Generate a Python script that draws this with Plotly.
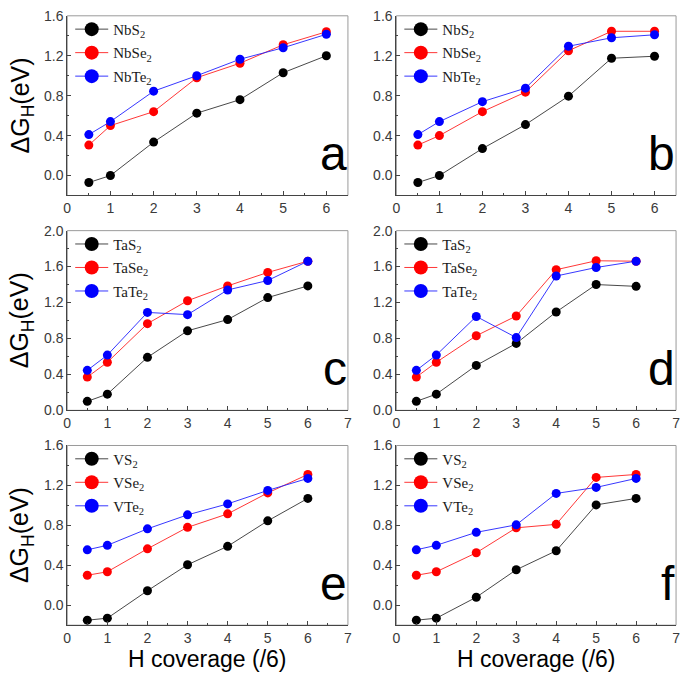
import plotly.graph_objects as go

W, H = 685, 682

# ---------------- data ----------------
x_cov = [0.5, 1, 2, 3, 4, 5, 6]
x_ticks = [0, 1, 2, 3, 4, 5, 6, 7]

# panel a (Nb, configuration 1)
a_NbS2 = [-0.07, 0.00, 0.335, 0.625, 0.76, 1.03, 1.20]
a_NbSe2 = [0.305, 0.50, 0.64, 0.98, 1.125, 1.31, 1.44]
a_NbTe2 = [0.41, 0.54, 0.845, 1.00, 1.165, 1.28, 1.415]
# panel b (Nb, configuration 2)
b_NbS2 = [-0.07, 0.00, 0.27, 0.51, 0.795, 1.175, 1.195]
b_NbSe2 = [0.305, 0.40, 0.64, 0.835, 1.25, 1.445, 1.445]
b_NbTe2 = [0.41, 0.54, 0.74, 0.875, 1.295, 1.38, 1.41]
# panel c (Ta, configuration 1)
c_TaS2 = [0.10, 0.18, 0.59, 0.885, 1.01, 1.255, 1.385]
c_TaSe2 = [0.37, 0.535, 0.965, 1.22, 1.385, 1.535, 1.66]
c_TaTe2 = [0.445, 0.615, 1.09, 1.065, 1.34, 1.445, 1.66]
# panel d (Ta, configuration 2)
d_TaS2 = [0.10, 0.18, 0.50, 0.745, 1.095, 1.40, 1.38]
d_TaSe2 = [0.37, 0.535, 0.83, 1.05, 1.565, 1.665, 1.66]
d_TaTe2 = [0.445, 0.615, 1.045, 0.81, 1.495, 1.59, 1.66]
# panel e (V, configuration 1)
e_VS2 = [-0.15, -0.13, 0.145, 0.405, 0.59, 0.845, 1.07]
e_VSe2 = [0.30, 0.335, 0.565, 0.78, 0.915, 1.125, 1.31]
e_VTe2 = [0.555, 0.60, 0.765, 0.905, 1.015, 1.15, 1.27]
# panel f (V, configuration 2)
f_VS2 = [-0.15, -0.13, 0.08, 0.355, 0.545, 1.005, 1.07]
f_VSe2 = [0.30, 0.335, 0.525, 0.775, 0.81, 1.28, 1.31]
f_VTe2 = [0.555, 0.60, 0.73, 0.805, 1.12, 1.18, 1.27]

names_Nb = ["NbS<sub>2</sub>", "NbSe<sub>2</sub>", "NbTe<sub>2</sub>"]
names_Ta = ["TaS<sub>2</sub>", "TaSe<sub>2</sub>", "TaTe<sub>2</sub>"]
names_V = ["VS<sub>2</sub>", "VSe<sub>2</sub>", "VTe<sub>2</sub>"]
panel_letters = ["a", "b", "c", "d", "e", "f"]
y_title = "ΔG<sub>H</sub>(eV)"
x_title = "H coverage (/6)"

colors = ["#000000", "#FF0000", "#0000FF"]
line_colors = ["#333333", "#FF2020", "#2020FF"]

panels = [
    (names_Nb, [a_NbS2, a_NbSe2, a_NbTe2]),
    (names_Nb, [b_NbS2, b_NbSe2, b_NbTe2]),
    (names_Ta, [c_TaS2, c_TaSe2, c_TaTe2]),
    (names_Ta, [d_TaS2, d_TaSe2, d_TaTe2]),
    (names_V, [e_VS2, e_VSe2, e_VTe2]),
    (names_V, [f_VS2, f_VSe2, f_VTe2]),
]

# ---------------- layout geometry (page pixels) ----------------
cols_px = [(64, 348), (397, 680)]
rows_px = [(8, 192), (228, 412), (448, 632)]
x_ranges = [[0, 6.5], [0, 7], [0, 7]]
y_ranges = [[-0.2, 1.6], [0, 2.0], [-0.2, 1.6]]


def px(xp):
    return xp / W


def py(yp):
    return 1 - yp / H


fig = go.Figure()
layout = dict(
    width=W, height=H,
    margin=dict(l=0, r=0, t=0, b=0),
    paper_bgcolor="white", plot_bgcolor="white",
    font=dict(family="Liberation Sans, Arial", size=14, color="#333333"),
    showlegend=True,
)
annotations = []
shapes = []

for i, (names, series) in enumerate(panels):
    r, c = divmod(i, 2)
    k = i + 1
    xa = "x" if k == 1 else f"x{k}"
    ya = "y" if k == 1 else f"y{k}"
    lg = "legend" if k == 1 else f"legend{k}"
    x0, x1 = cols_px[c]
    y0, y1 = rows_px[r]
    for j, (nm, vals) in enumerate(zip(names, series)):
        fig.add_trace(go.Scatter(
            x=x_cov, y=vals, name=nm, mode="lines+markers",
            line=dict(color=line_colors[j], width=0.9),
            marker=dict(color=colors[j], size=9),
            xaxis=xa, yaxis=ya, showlegend=False,
        ))
        # legend entry (bigger symbol, as in the original)
        fig.add_trace(go.Scatter(
            x=[None], y=[None], name=nm, mode="lines+markers",
            line=dict(color=line_colors[j], width=0.9),
            marker=dict(color=colors[j], size=14),
            xaxis=xa, yaxis=ya, legend=lg, legendgroup=f"g{k}_{j}",
            showlegend=True, hoverinfo="skip",
        ))
    axis_common = dict(
        showline=True, linecolor="#444444", linewidth=1,
        ticks="inside", ticklen=4, tickcolor="#444444",
        minor=dict(ticks="inside", ticklen=2, tickcolor="#444444"),
        showgrid=False, zeroline=False, fixedrange=True,
        tickfont=dict(family="Liberation Sans, Arial", size=14, color="#3a3a3a"),
    )
    layout["xaxis" if k == 1 else f"xaxis{k}"] = dict(
        axis_common, domain=[px(x0), px(x1)], range=x_ranges[r],
        tickmode="array", tickvals=x_ticks, ticktext=[str(t) for t in x_ticks],
        minor=dict(axis_common["minor"], dtick=0.5, tick0=0),
        anchor=ya,
    )
    layout["yaxis" if k == 1 else f"yaxis{k}"] = dict(
        axis_common, domain=[py(y1), py(y0)], range=y_ranges[r],
        dtick=0.4, tick0=0, tickformat=".1f",
        minor=dict(axis_common["minor"], dtick=0.2, tick0=0),
        anchor=xa,
    )
    layout[lg] = dict(
        x=px(x0 + 3), y=py(y0 - 3), xanchor="left", yanchor="top",
        bgcolor="rgba(0,0,0,0)", borderwidth=0,
        font=dict(family="Liberation Serif, Times New Roman", size=15, color="#1a1a1a"),
        itemsizing="trace", itemwidth=33, tracegroupgap=1,
    )
    # box frame (top/right lighter)
    shapes.append(dict(type="rect", xref="paper", yref="paper",
                       x0=px(x0), x1=px(x1), y0=py(y1), y1=py(y0),
                       line=dict(color="#9a9a9a", width=1), layer="below"))
    # panel letter
    annotations.append(dict(
        text=panel_letters[i], xref="paper", yref="paper",
        x=px(x1 + 1), y=py(y1 - 14), xanchor="right", yanchor="bottom",
        showarrow=False, font=dict(family="Liberation Sans, Arial", size=48, color="black"),
    ))
    if c == 0:
        annotations.append(dict(
            text=y_title, xref="paper", yref="paper",
            x=px(18), y=py((y0 + y1) / 2), xanchor="center", yanchor="middle",
            textangle=-90, showarrow=False,
            font=dict(family="Liberation Sans, Arial", size=25, color="black"),
        ))
    if r == 2:
        annotations.append(dict(
            text=x_title, xref="paper", yref="paper",
            x=px((x0 + x1) / 2), y=py(667), xanchor="center", yanchor="middle",
            showarrow=False,
            font=dict(family="Liberation Sans, Arial", size=23, color="black"),
        ))

layout["annotations"] = annotations
layout["shapes"] = shapes
fig.update_layout(**layout)
# remove the default 8px page margin so the figure fills the 685x682 window exactly
fig.write_html(
    "out.html",
    config={"displayModeBar": False},
    post_script="document.body.style.margin='0';document.body.style.overflow='hidden';",
)
